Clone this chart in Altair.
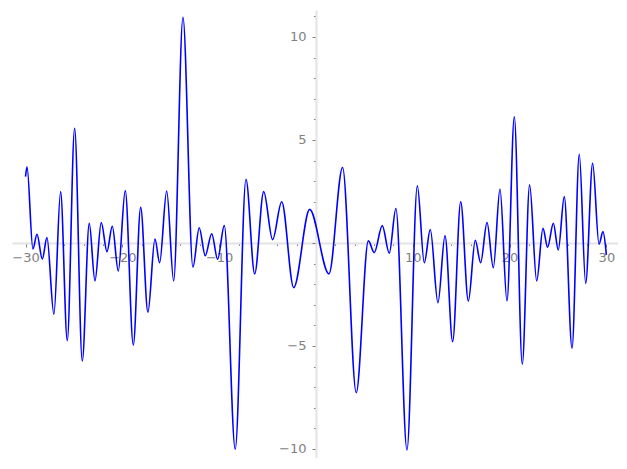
import altair as alt
import pandas as pd

# local extrema of the curve
xs = [-30.0, -29.85, -29.24, -28.82, -28.27, -27.79, -27.07, -26.38, -25.69, -24.93,
      -24.14, -23.42, -22.83, -22.18, -21.59, -21.04, -20.42, -19.70, -18.87, -18.11,
      -17.36, -16.63, -16.15, -15.42, -14.70, -13.74, -12.71, -12.06, -11.44, -10.77,
      -10.16, -9.47, -8.34, -7.23, -6.33, -5.40, -4.48, -3.54, -2.30, -0.65,
      1.34, 2.75, 4.16, 5.41, 6.02, 6.85, 7.57, 8.26, 9.40, 10.47,
      11.19, 11.81, 12.60, 13.33, 14.12, 14.95, 15.74, 16.46, 17.01, 17.67,
      18.32, 19.01, 19.73, 20.49, 21.31, 22.07, 22.80, 23.45, 23.93, 24.52,
      25.03, 25.65, 26.45, 27.20, 27.86, 28.58, 29.24, 29.65, 30.0]
ys = [3.22, 3.70, -0.29, 0.42, -0.78, 0.26, -3.46, 2.49, -4.74, 5.57,
      -5.73, 0.95, -1.84, 0.99, -0.42, 0.81, -1.36, 2.54, -4.95, 1.73,
      -3.36, 0.19, -0.96, 2.52, -1.84, 10.96, -1.18, 0.74, -0.62, 0.45,
      -0.79, 0.84, -10.01, 3.09, -1.50, 2.49, 0.16, 2.00, -2.17, 1.63,
      -1.50, 3.66, -7.27, 0.10, -0.47, 0.84, -0.50, 1.67, -10.05, 2.77,
      -0.96, 0.65, -2.90, 0.35, -4.79, 2.00, -2.82, 0.13, -0.96, 0.99,
      -1.20, 2.62, -2.82, 6.13, -5.89, 2.82, -1.84, 0.71, -0.21, 0.96,
      -0.34, 2.25, -5.11, 4.31, -1.96, 3.87, -0.06, 0.55, -0.58]

x_ticks = list(range(-30, 31, 2))
y_ticks = list(range(-10, 12, 1))

xmin, xmax = -31.4, 31.2
ymin, ymax = -10.44, 11.31
W, H = 606, 448

df = pd.DataFrame({"x": xs, "y": ys})

x_off = -H * (0 - ymin) / (ymax - ymin)
y_off = -W * (0 - xmin) / (xmax - xmin)

grey = "#7f7f7f"
axis_common = dict(
    grid=False, domainColor="#e3e3e3", domainWidth=2, tickColor=grey,
    labelColor=grey, labelFont="DejaVu Sans", labelFontSize=13,
    labelOverlap=False, labelFlush=False, title=None,
)

chart = alt.Chart(df).mark_line(color="#0000ff", strokeWidth=1.6, interpolate="monotone").encode(
    x=alt.X("x:Q", scale=alt.Scale(domain=[xmin, xmax], nice=False, zero=False),
            axis=alt.Axis(orient="bottom", offset=x_off, values=x_ticks,
                          tickSize={"condition": {"test": "datum.value % 10 != 0", "value": 2.5}, "value": 4},
                          labelExpr="(datum.value % 10 != 0 || datum.value == 0) ? '' : datum.label",
                          labelPadding=5, **axis_common)),
    y=alt.Y("y:Q", scale=alt.Scale(domain=[ymin, ymax], nice=False, zero=False),
            axis=alt.Axis(orient="left", offset=y_off, values=y_ticks,
                          tickSize={"condition": {"test": "datum.value % 5 != 0", "value": 2.5}, "value": 4},
                          labelExpr="(datum.value % 5 != 0 || datum.value == 0) ? '' : datum.label",
                          labelPadding=6, **axis_common)),
).properties(
    width=W, height=H,
    autosize=alt.AutoSizeParams(type="none"),
    padding={"left": 4, "top": 2, "right": 0, "bottom": 0},
).configure_view(stroke=None)

chart.save("out.html", embed_options={"renderer": "svg", "actions": False})
